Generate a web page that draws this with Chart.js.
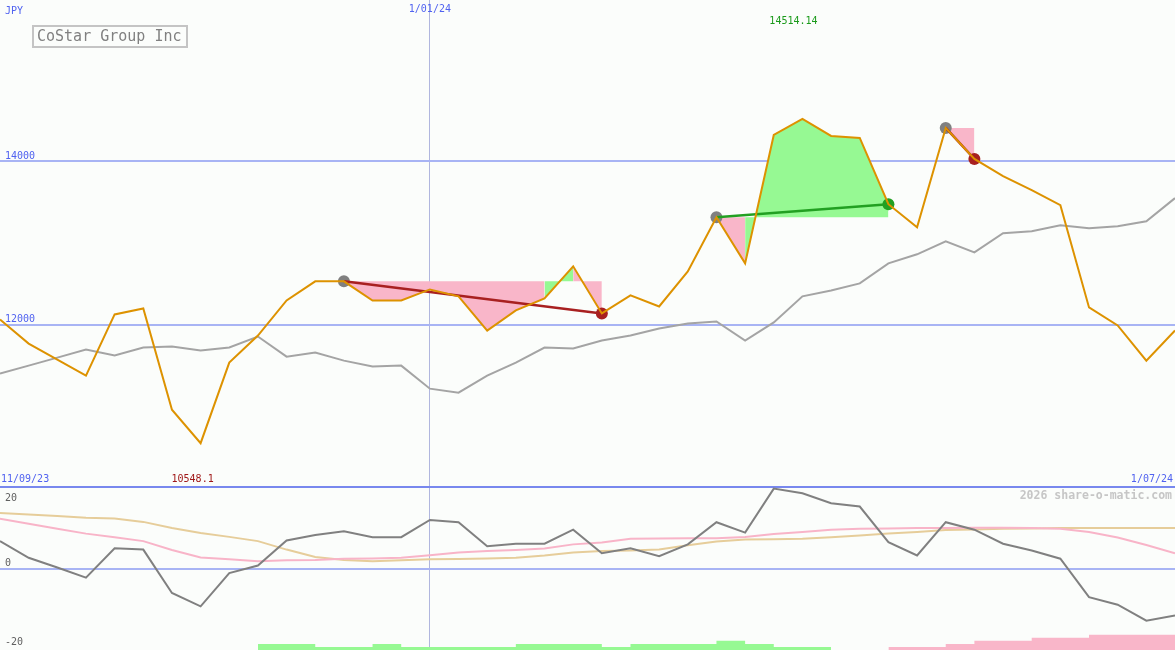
<!DOCTYPE html>
<html>
<head>
<meta charset="utf-8">
<title>CoStar Group Inc</title>
<script src="https://cdn.jsdelivr.net/npm/chart.js@4.4.1/dist/chart.umd.min.js"></script>
<style>
  html, body { margin: 0; padding: 0; background: #fbfdfb; }
  #wrap { position: relative; width: 1175px; height: 650px; }
</style>
</head>
<body>
<div id="wrap"><canvas id="chart" width="1175" height="650"></canvas></div>
<script>
// weekly closes, 18/09/23 .. 1/07/24
const weeks = [
  '18/09/23', '25/09/23', '2/10/23', '9/10/23', '16/10/23', '23/10/23', '30/10/23',
  '6/11/23', '13/11/23', '20/11/23', '27/11/23', '4/12/23', '11/12/23', '18/12/23',
  '25/12/23', '1/01/24', '8/01/24', '15/01/24', '22/01/24', '29/01/24', '5/02/24',
  '12/02/24', '19/02/24', '26/02/24', '4/03/24', '11/03/24', '18/03/24', '25/03/24',
  '1/04/24', '8/04/24', '15/04/24', '22/04/24', '29/04/24', '6/05/24', '13/05/24',
  '20/05/24', '27/05/24', '3/06/24', '10/06/24', '17/06/24', '24/06/24', '1/07/24'
];

const price = [
  12061, 11767, 11571, 11374, 12123, 12196, 10957, 10548.1, 11534, 11865,
  12294, 12528, 12528, 12294, 12294, 12429, 12344, 11926, 12172, 12319,
  12712, 12135, 12356, 12221, 12650, 13313, 12748, 14319, 14514.14, 14307,
  14282, 13472, 13190, 14405, 14025, 13816, 13644, 13460, 12209, 11988,
  11558, 11926
];

// market index rebased onto the price scale
const market = [
  11399, 11497, 11595, 11693, 11620, 11718, 11730, 11681, 11718, 11853,
  11607, 11656, 11558, 11485, 11497, 11215, 11166, 11374, 11534, 11718,
  11706, 11804, 11865, 11951, 12012, 12037, 11804, 12025, 12344, 12417,
  12503, 12748, 12859, 13018, 12883, 13117, 13141, 13215, 13178, 13202,
  13264, 13546
];

const momentum = [
  8.4, 3.3, 0.3, -2.8, 6.2, 5.8, -7.5, -11.6, -1.4, 0.9,
  8.6, 10.3, 11.4, 9.6, 9.6, 14.9, 14.2, 6.8, 7.6, 7.6,
  11.9, 4.7, 6.2, 3.8, 7.4, 14.2, 11.0, 24.5, 23.1, 20.0,
  19.0, 8.1, 4.0, 14.2, 11.9, 7.6, 5.5, 3.0, -8.8, -11.1,
  -16.0, -14.4
];

const avgFast = [
  15.3, 13.7, 12.2, 10.7, 9.6, 8.4, 5.7, 3.4, 2.8, 2.2,
  2.5, 2.6, 3.0, 3.1, 3.3, 4.1, 4.9, 5.4, 5.7, 6.1,
  7.4, 8.0, 9.1, 9.2, 9.3, 9.3, 9.7, 10.6, 11.2, 11.9,
  12.2, 12.3, 12.4, 12.4, 12.5, 12.5, 12.4, 12.2, 11.2, 9.5,
  7.2, 4.7
];

const avgSlow = [
  17.0, 16.6, 16.1, 15.6, 15.3, 14.3, 12.4, 10.9, 9.7, 8.4,
  5.8, 3.5, 2.6, 2.2, 2.5, 2.8, 2.9, 3.1, 3.3, 4.0,
  4.9, 5.4, 5.5, 5.8, 7.1, 8.3, 8.9, 9.0, 9.1, 9.6,
  10.1, 10.7, 11.2, 11.8, 12.0, 12.2, 12.3, 12.4, 12.4, 12.4,
  12.4, 12.4
];

// signal strength histogram (value holds until the next week)
const buyStrength = [
  null, null, null, null, null, null, null, null, null, 1,
  2, 2, 1, 1, 2, 1, 1, 1, 1, 2,
  2, 2, 1, 2, 2, 2, 3, 2, 1, 1,
  null, null, null, null, null, null, null, null, null, null,
  null, null
];
const sellStrength = [
  null, null, null, null, null, null, null, null, null, null,
  null, null, null, null, null, null, null, null, null, null,
  null, null, null, null, null, null, null, null, null, null,
  null, 1, 1, 1, 2, 3, 3, 4, 4, 5,
  5, 5
];

// [entry week, exit week]
const trades = [[12, 21], [25, 31], [33, 34]];

const priceLevels = [12000, 14000];
const oscLevels = [25, 20, 0];
const title = 'CoStar Group Inc';
const currency = 'JPY';
const rangeStart = '11/09/23';
const yearMark = '1/01/24';
const credit = '2026 share-o-matic.com';

const MONO = '"DejaVu Sans Mono", "Liberation Mono", monospace';
const PINK = '#f9b6c9';
const GREEN = '#96f993';
const LOSS = '#a82020';
const WIN = '#22a022';
const yearIdx = weeks.indexOf(yearMark);

const datasets = [];

datasets.push({
  label: 'price', data: price, yAxisID: 'y',
  borderColor: '#dd9200', borderWidth: 2, order: 2
});

// trade lines and shading
const dotData = price.map(() => null);
const dotColor = price.map(() => 'transparent');
const dotRadius = price.map(() => 0);

trades.forEach(([a, b]) => {
  const level = price[a];
  const win = price[b] > level;
  datasets.push({
    label: 'trade', data: price.map((v, j) => (j === a || j === b) ? v : null),
    yAxisID: 'y', spanGaps: true, borderColor: win ? WIN : LOSS, borderWidth: 2.5, order: 2.5
  });
  dotData[a] = price[a]; dotColor[a] = '#808080'; dotRadius[a] = 6;
  dotData[b] = price[b]; dotColor[b] = win ? WIN : LOSS; dotRadius[b] = 6;

  // each week coloured by where it closes against the entry
  let start = a;
  for (let i = a; i < b; i++) {
    const up = price[i + 1] >= level;
    const nextUp = i + 1 < b ? price[i + 2] >= level : null;
    if (nextUp !== up) {
      const s = start, e = i + 1;
      datasets.push({
        label: 'shade', data: price.map((v, j) => (j >= s && j <= e) ? v : null),
        yAxisID: 'y', fill: { value: level },
        backgroundColor: up ? GREEN : PINK, borderColor: 'transparent', borderWidth: 0, order: 10
      });
      start = e;
    }
  }
});

datasets.push({
  label: 'signals', data: dotData, yAxisID: 'y', showLine: false,
  pointRadius: dotRadius, pointBackgroundColor: dotColor, pointBorderWidth: 0, order: 3
});

datasets.push({
  label: 'market', data: market, yAxisID: 'y',
  borderColor: '#a4a4a4', borderWidth: 2, order: 4
});

datasets.push({ label: 'momentum', data: momentum, yAxisID: 'y2', borderColor: '#808080', borderWidth: 2, order: 5 });
datasets.push({ label: 'fast', data: avgFast, yAxisID: 'y2', borderColor: '#f8b4c8', borderWidth: 2, order: 6 });
datasets.push({ label: 'slow', data: avgSlow, yAxisID: 'y2', borderColor: '#e6cd9a', borderWidth: 2, order: 7 });

datasets.push({
  label: 'buy', data: buyStrength, yAxisID: 'y3', stepped: 'after', fill: 'origin',
  backgroundColor: GREEN, borderColor: 'transparent', borderWidth: 0, order: 9
});
datasets.push({
  label: 'sell', data: sellStrength, yAxisID: 'y3', stepped: 'after', fill: 'origin',
  backgroundColor: PINK, borderColor: 'transparent', borderWidth: 0, order: 9
});

// no label overflow padding: the labels sit inside the panels
const noPad = s => {
  s.paddingTop = 0; s.paddingBottom = 0; s.paddingLeft = 0; s.paddingRight = 0;
};

const overlay = {
  id: 'overlay',
  afterDraw(chart) {
    const { ctx, scales: { x, y2 } } = chart;
    ctx.save();
    ctx.textBaseline = 'middle';

    ctx.font = `10px ${MONO}`;
    ctx.fillStyle = '#5062f0';
    ctx.textAlign = 'left';
    ctx.fillText(currency, 5, 11);
    ctx.fillText(rangeStart, 1, 479);
    ctx.textAlign = 'right';
    ctx.fillText(weeks[weeks.length - 1], 1173, 479);
    ctx.textAlign = 'center';
    ctx.fillText(yearMark, x.getPixelForValue(yearIdx), 9);

    const hi = Math.max(...price), lo = Math.min(...price);
    ctx.fillStyle = '#1a9a1a';
    ctx.fillText(String(hi), x.getPixelForValue(price.indexOf(hi)) - 9, 21);
    ctx.fillStyle = '#a01818';
    ctx.fillText(String(lo), x.getPixelForValue(price.indexOf(lo)) - 8, 479);

    ctx.fillStyle = '#606060';
    ctx.textAlign = 'left';
    ctx.fillText('-20', 5, y2.getPixelForValue(-20) + 9);

    ctx.font = `bold 11.5px ${MONO}`;
    ctx.fillStyle = '#c6c6c6';
    ctx.textAlign = 'right';
    ctx.fillText(credit, 1172, 496);

    // title box
    ctx.fillStyle = '#fbfdfb';
    ctx.fillRect(33, 26, 154, 21);
    ctx.strokeStyle = '#c4c4c4';
    ctx.lineWidth = 2;
    ctx.strokeRect(33, 26, 154, 21);
    ctx.font = `15px ${MONO}`;
    ctx.fillStyle = '#808080';
    ctx.textAlign = 'left';
    ctx.fillText(title, 37, 37);
    ctx.restore();
  }
};

new Chart(document.getElementById('chart'), {
  type: 'line',
  data: { labels: weeks, datasets },
  plugins: [overlay],
  options: {
    responsive: false,
    animation: false,
    devicePixelRatio: 1,
    events: [],
    layout: { padding: 0 },
    elements: { line: { tension: 0 }, point: { radius: 0 } },
    plugins: { legend: { display: false }, tooltip: { enabled: false } },
    scales: {
      x: {
        type: 'category',
        ticks: { display: false },
        grid: {
          drawTicks: false, lineWidth: 1,
          color: c => (c.tick && c.tick.value === yearIdx) ? '#b0b6de' : 'transparent'
        },
        border: { display: false },
        afterBuildTicks: s => { s.ticks = s.ticks.filter(t => t.value === yearIdx); },
        afterFit: s => { s.height = 0; noPad(s); }
      },
      y: {
        stack: 'panels', stackWeight: 487, weight: 1, position: 'left',
        min: 10012, max: 15970,
        afterBuildTicks: s => { s.ticks = priceLevels.map(v => ({ value: v })); },
        ticks: {
          mirror: true, padding: 5, labelOffset: -5, color: '#5062f0', font: { family: MONO, size: 10 },
          callback: v => String(v)
        },
        grid: { color: '#a8b4f4', lineWidth: 2, drawTicks: false },
        border: { display: false },
        afterFit: s => { s.width = 0; noPad(s); }
      },
      y2: {
        stack: 'panels', stackWeight: 163, weight: 0, position: 'left',
        min: -25, max: 25,
        afterBuildTicks: s => { s.ticks = oscLevels.map(v => ({ value: v })); },
        ticks: {
          mirror: true, padding: 5, labelOffset: -5, color: '#606060', font: { family: MONO, size: 10 },
          callback: v => v === 25 ? '' : String(v)
        },
        grid: {
          lineWidth: 2, drawTicks: false,
          color: c => !c.tick ? 'transparent' : c.tick.value === 25 ? '#7888ee' : c.tick.value === 0 ? '#a8b4f4' : 'transparent'
        },
        border: { display: false },
        afterFit: s => { s.width = 0; noPad(s); }
      },
      y3: { display: false, min: 0, max: 213 }
    }
  }
});
</script>
</body>
</html>
